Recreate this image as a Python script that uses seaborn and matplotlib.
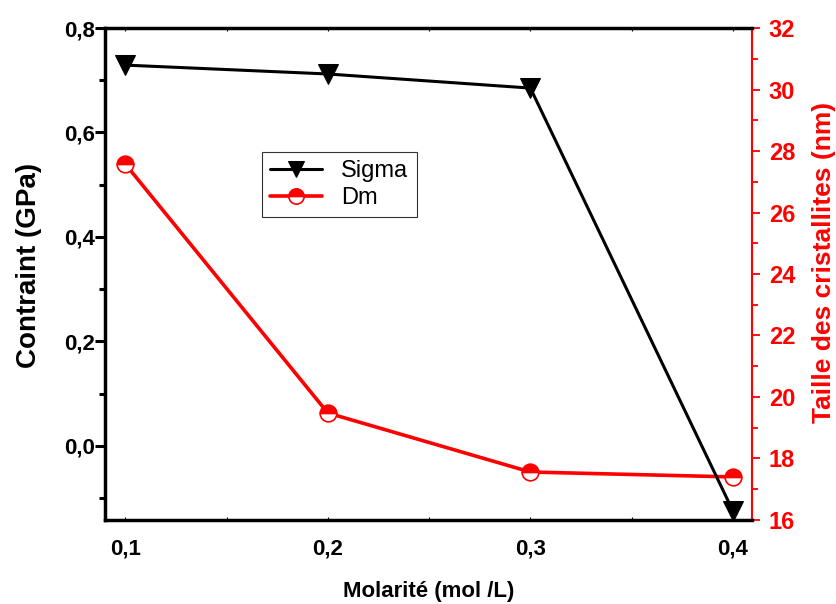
import matplotlib
matplotlib.use("Agg")
import matplotlib.pyplot as plt
import seaborn as sns
import pandas as pd
from matplotlib.ticker import MultipleLocator, FuncFormatter

# Data
molarite = [0.1, 0.2, 0.3, 0.4]
sigma = [0.729, 0.712, 0.685, -0.125]
dm = [27.58, 19.48, 17.56, 17.40]

sns.set_style("white")
plt.rcParams['font.family'] = ['Liberation Sans', 'DejaVu Sans']
plt.rcParams.update({"text.color": "black", "axes.labelcolor": "black",
                     "xtick.color": "black", "ytick.color": "black",
                     "axes.edgecolor": "black"})

df = pd.DataFrame({"Molarite": molarite, "Sigma": sigma, "Dm": dm})

fig = plt.figure(figsize=(8.37, 6.04), dpi=100)
ax = fig.add_axes([0.1254, 0.1391, 0.7731, 0.8145])
ax2 = ax.twinx()

sns.lineplot(data=df, x="Molarite", y="Sigma", ax=ax, color="black", linewidth=2.2,
             marker="v", markersize=14, markeredgecolor="black", label="Sigma", legend=False)
sns.lineplot(data=df, x="Molarite", y="Dm", ax=ax2, color="red", linewidth=2.6,
             marker="o", markersize=12, markeredgecolor="red", fillstyle="top",
             markerfacecoloralt="white", label="Dm", legend=False)
for ln in ax2.get_lines():
    ln.set_markerfacecolor("red")
    ln.set_markerfacecoloralt("white")
    ln.set_fillstyle("top")
    ln.set_markeredgewidth(1.2)

comma = FuncFormatter(lambda v, p: f"{v:.1f}".replace(".", ","))

ax.set_xlim(0.09, 0.4094)
ax.set_ylim(-0.142, 0.8)
ax2.set_ylim(16, 32)

ax.xaxis.set_major_locator(MultipleLocator(0.1))
ax.xaxis.set_minor_locator(MultipleLocator(0.05))
ax.yaxis.set_major_locator(MultipleLocator(0.2))
ax.yaxis.set_minor_locator(MultipleLocator(0.1))
ax.xaxis.set_major_formatter(comma)
ax.yaxis.set_major_formatter(comma)
ax2.yaxis.set_major_locator(MultipleLocator(2))
ax2.yaxis.set_minor_locator(MultipleLocator(1))

ax.tick_params(axis="both", which="major", direction="out", length=7, width=2.2,
               labelsize=16, bottom=True, left=True, colors="black")
ax.tick_params(axis="both", which="minor", direction="out", length=4, width=2.2,
               bottom=True, left=True, colors="black")
ax.tick_params(axis="x", which="major", pad=13)
ax.tick_params(axis="y", which="major", pad=0)
ax.tick_params(axis="x", top=True, which="both", direction="in", length=2, width=0.8)
ax2.tick_params(axis="y", which="major", direction="out", length=6, width=1.3,
                colors="red", labelsize=17, pad=6)
ax2.tick_params(axis="y", which="minor", direction="out", length=4, width=1.3, colors="red")

for lab in ax.get_xticklabels() + ax.get_yticklabels() + ax2.get_yticklabels():
    lab.set_fontweight("bold")

for side in ["left", "bottom", "top"]:
    ax.spines[side].set_linewidth(2.5)
    ax.spines[side].set_color("black")
ax.spines["right"].set_visible(False)
for side in ["left", "bottom", "top"]:
    ax2.spines[side].set_visible(False)
ax2.spines["right"].set_color("red")
ax2.spines["right"].set_linewidth(1.5)

ax.set_xlabel("Molarité (mol /L)", fontsize=16, fontweight="bold", color="black")
ax.set_ylabel("Contraint (GPa)", fontsize=20, fontweight="bold", color="black")
ax2.set_ylabel("Taille des cristallites (nm)", fontsize=19, fontweight="bold", color="red")
ax.xaxis.set_label_coords(0.5, -0.125)
ax.yaxis.set_label_coords(-0.098, 0.518)
ax2.yaxis.set_label_coords(1.093, 0.524)

h1, l1 = ax.get_legend_handles_labels()
h2, l2 = ax2.get_legend_handles_labels()
leg = ax.legend(h1 + h2, l1 + l2, loc="upper left", bbox_to_anchor=(0.243, 0.748),
                fontsize=17, frameon=True, fancybox=False, edgecolor="black",
                borderpad=0.35, handlelength=2.2, handletextpad=0.8, labelspacing=0.2,
                borderaxespad=0)
leg.get_frame().set_linewidth(0.8)
for txt in leg.get_texts():
    txt.set_color("black")
for hd in leg.legend_handles:
    hd.set_markersize(11)
ax.set_zorder(ax2.get_zorder() + 1)
ax.patch.set_visible(False)

fig.savefig("out.png", dpi=100)
